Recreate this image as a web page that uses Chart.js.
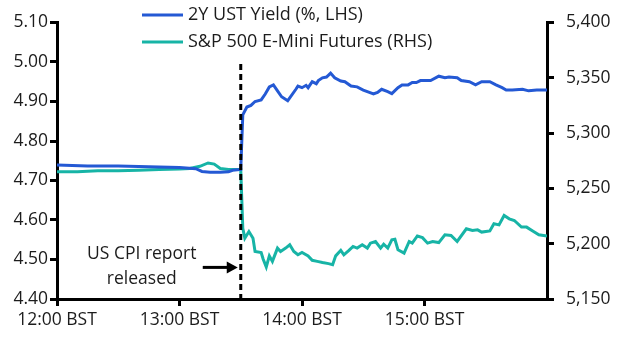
<!DOCTYPE html>
<html>
<head>
<meta charset="utf-8">
<script src="https://cdn.jsdelivr.net/npm/chart.js@4"></script>
<style>
  html, body { margin: 0; padding: 0; background: #fff; }
  #wrap { width: 622px; height: 350px; }
</style>
</head>
<body>
<div id="wrap"><canvas id="chart"></canvas></div>
<script>
// minutes after 12:00 BST
const tickMinutes = [0, 60, 120, 180];
const tickLabels = ['12:00 BST', '13:00 BST', '14:00 BST', '15:00 BST'];
const releaseMinute = 90;

// 2Y UST yield (%), left axis
const yieldMinutes = [0, 15, 30, 45, 60, 68, 71, 75, 80, 84, 86, 90,
  91, 93, 95, 97, 100, 102, 104, 106, 108, 110, 113, 114, 117, 118, 120, 122, 123, 125, 127, 128,
  130, 132, 134, 136, 139, 141, 144, 147, 150, 153, 155, 157, 159, 162, 164, 167, 169, 172, 174,
  176, 178, 183, 187, 190, 192, 196, 198, 202, 205, 208, 212, 215, 218, 220, 223, 228, 231, 235, 240];
const yieldValues = [4.739, 4.737, 4.737, 4.735, 4.733, 4.730, 4.723, 4.721, 4.721, 4.722, 4.726, 4.728,
  4.866, 4.886, 4.890, 4.900, 4.904, 4.919, 4.937, 4.942, 4.927, 4.912, 4.902, 4.909, 4.931, 4.939, 4.935, 4.941, 4.935, 4.950, 4.945, 4.953,
  4.960, 4.962, 4.972, 4.960, 4.952, 4.950, 4.939, 4.937, 4.929, 4.923, 4.919, 4.923, 4.931, 4.925, 4.920, 4.935, 4.942, 4.942, 4.948,
  4.948, 4.953, 4.953, 4.964, 4.960, 4.962, 4.960, 4.953, 4.950, 4.942, 4.950, 4.950, 4.942, 4.935, 4.929, 4.929, 4.931, 4.927, 4.929, 4.929];

// S&P 500 E-mini futures, right axis
const spxMinutes = [0, 10, 20, 30, 40, 50, 60, 65, 70, 74, 77, 80, 84, 90,
  91, 92, 94, 96, 97, 100, 101, 102.5, 104, 105.5, 108, 109.5, 112, 114, 116, 118, 120, 123, 125, 127.5,
  130, 133, 135, 136.5, 139, 140.5, 143, 145, 147, 149.5, 152, 153.5, 156, 158.5, 160, 162, 164, 165.5,
  167, 170, 172.5, 174, 176.5, 179, 181.5, 184, 187, 190, 193, 196, 200.5, 203.5, 206, 208, 212, 214,
  216.5, 219, 221.5, 224, 227.5, 230, 233, 236, 240];
const spxValues = [5265, 5265, 5266, 5266, 5266.5, 5267, 5267.5, 5268, 5270, 5273, 5272, 5268, 5267, 5267,
  5214, 5205, 5211, 5205, 5193, 5192, 5186, 5179, 5189, 5184, 5196, 5193, 5196, 5199, 5193, 5190, 5192, 5189, 5185, 5184,
  5183, 5182, 5181, 5189, 5194, 5190, 5194, 5197.5, 5196, 5199, 5196, 5200.5, 5202, 5196, 5199.5, 5196, 5203.5, 5204,
  5194.5, 5191.5, 5202, 5200.5, 5207, 5205.5, 5200.5, 5202, 5201, 5208, 5207.5, 5202, 5213.5, 5212, 5212.5, 5210.5, 5211.5, 5218,
  5217, 5225.5, 5222.5, 5221, 5215, 5215, 5211.5, 5208, 5207];

const BLUE = '#2459d4';
const TEAL = '#17b4a6';
const INK = '#1c1c1c';
const FONT = '"Open Sans", "Noto Sans", sans-serif';

function pairs(xs, ys) {
  return xs.map((x, i) => ({ x: x, y: ys[i] }));
}

// dashed release line, annotation arrow and stacked legend
const extras = {
  id: 'extras',
  afterDatasetsDraw(chart) {
    const ctx = chart.ctx;
    const xs = chart.scales.x;
    const yl = chart.scales.yLeft;
    const rx = xs.getPixelForValue(releaseMinute);

    ctx.save();
    ctx.strokeStyle = '#000';
    ctx.lineWidth = 3;
    ctx.setLineDash([6, 4]);
    ctx.beginPath();
    ctx.moveTo(rx, yl.getPixelForValue(4.995));
    ctx.lineTo(rx, yl.bottom);
    ctx.stroke();
    ctx.setLineDash([]);

    // arrow pointing at the release line
    const ay = yl.getPixelForValue(4.48);
    ctx.beginPath();
    ctx.moveTo(rx - 38, ay);
    ctx.lineTo(rx - 12, ay);
    ctx.stroke();
    ctx.fillStyle = '#000';
    ctx.beginPath();
    ctx.moveTo(rx - 3, ay);
    ctx.lineTo(rx - 14, ay - 6);
    ctx.lineTo(rx - 14, ay + 6);
    ctx.closePath();
    ctx.fill();

    ctx.fillStyle = INK;
    ctx.font = '17.5px ' + FONT;
    ctx.textAlign = 'center';
    ctx.textBaseline = 'middle';
    ctx.fillText('US CPI report', rx - 99, ay - 13);
    ctx.fillText('released', rx - 99, ay + 12);

    // legend
    ctx.font = '18px ' + FONT;
    ctx.textAlign = 'left';
    chart.data.datasets.forEach((ds, i) => {
      const ly = 15 + i * 27;
      ctx.strokeStyle = ds.borderColor;
      ctx.lineWidth = 3;
      ctx.beginPath();
      ctx.moveTo(142, ly);
      ctx.lineTo(183, ly);
      ctx.stroke();
      ctx.fillStyle = INK;
      ctx.fillText(ds.label, 188, ly);
    });
    ctx.restore();
  }
};

const axisGrid = {
  drawOnChartArea: false,
  drawTicks: true,
  tickLength: 7,
  color: '#000',
  lineWidth: 3
};
const axisBorder = { display: true, color: '#000', width: 3 };
const tickFont = { family: FONT, size: 17.5 };

new Chart(document.getElementById('chart'), {
  type: 'line',
  data: {
    datasets: [
      {
        label: '2Y UST Yield (%, LHS)',
        data: pairs(yieldMinutes, yieldValues),
        borderColor: BLUE,
        borderWidth: 3,
        pointRadius: 0,
        tension: 0,
        yAxisID: 'yLeft'
      },
      {
        label: 'S&P 500 E-Mini Futures (RHS)',
        data: pairs(spxMinutes, spxValues),
        borderColor: TEAL,
        borderWidth: 3,
        pointRadius: 0,
        tension: 0,
        yAxisID: 'yRight'
      }
    ]
  },
  options: {
    responsive: true,
    maintainAspectRatio: false,
    animation: false,
    layout: { padding: { top: 15, left: 0, right: 0, bottom: 0 } },
    plugins: {
      legend: { display: false },
      tooltip: { enabled: false }
    },
    scales: {
      x: {
        type: 'linear',
        min: 0,
        max: 240,
        afterBuildTicks: axis => { axis.ticks = tickMinutes.map(v => ({ value: v })); },
        afterFit: axis => { axis.height = 51; },
        grid: axisGrid,
        border: axisBorder,
        ticks: {
          font: tickFont,
          color: INK,
          padding: 4,
          maxRotation: 0,
          callback: v => tickLabels[tickMinutes.indexOf(v)]
        }
      },
      yLeft: {
        position: 'left',
        min: 4.4,
        max: 5.1,
        afterFit: axis => { axis.width = 57; },
        grid: axisGrid,
        border: axisBorder,
        ticks: {
          stepSize: 0.1,
          font: tickFont,
          color: INK,
          padding: 2,
          callback: v => v.toFixed(2)
        }
      },
      yRight: {
        position: 'right',
        min: 5150,
        max: 5400,
        afterFit: axis => { axis.width = 75; },
        grid: axisGrid,
        border: axisBorder,
        ticks: {
          stepSize: 50,
          font: tickFont,
          color: INK,
          padding: 12,
          callback: v => v.toLocaleString('en-US')
        }
      }
    }
  },
  plugins: [extras]
});
</script>
</body>
</html>
